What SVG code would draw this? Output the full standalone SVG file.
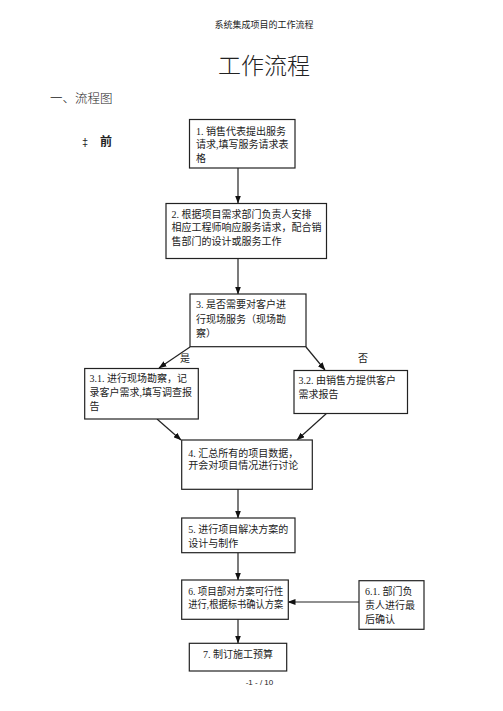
<svg xmlns="http://www.w3.org/2000/svg" width="503" height="711" viewBox="0 0 503 711">
<defs>
<style>
.box{fill:#fff;stroke:#222;stroke-width:1.2}
.t{font-family:"Liberation Serif","Noto Sans CJK SC",serif;font-size:10px;fill:#222}
.c{stroke:#222;stroke-width:1.2;fill:none;marker-end:url(#ah)}
.h{font-family:"Liberation Sans","Noto Sans CJK SC",sans-serif;fill:#222}
</style>
<marker id="ah" markerUnits="userSpaceOnUse" markerWidth="8" markerHeight="6" refX="7.5" refY="3" orient="auto">
<path d="M0,0 L8,3 L0,6 z" fill="#111"/>
</marker>
</defs>
<rect width="503" height="711" fill="#fff"/>
<text class="h" x="264" y="27.5" font-size="9" text-anchor="middle" fill="#555">系统集成项目的工作流程</text>
<text class="h" x="264" y="73.5" font-size="23" text-anchor="middle" font-weight="300">工作流程</text>
<text class="h" x="50" y="103" font-size="12.5" font-weight="300">一、流程图</text>
<text class="h" x="82" y="146" font-size="11" fill="#555">‡</text>
<text class="h" x="100" y="146" font-size="12" font-weight="bold">前</text>

<g id="connectors">
<line class="c" x1="238" y1="168" x2="238" y2="203"/>
<line class="c" x1="238" y1="258" x2="238" y2="294"/>
<line class="c" x1="190" y1="347" x2="159" y2="368"/>
<line class="c" x1="306" y1="347" x2="325" y2="370"/>
<line class="c" x1="157" y1="419" x2="181" y2="440"/>
<line class="c" x1="327" y1="413" x2="297" y2="440"/>
<line class="c" x1="238" y1="489" x2="238" y2="518"/>
<line class="c" x1="238" y1="553" x2="238" y2="580"/>
<line class="c" x1="359" y1="602" x2="288" y2="602"/>
<line class="c" x1="238" y1="619" x2="238" y2="643"/>
<text class="t" x="180" y="361.5">是</text>
<text class="t" x="358" y="361.5">否</text>
</g>

<g id="n1">
<rect class="box" x="189.5" y="119.5" width="105.5" height="48.5"/>
<text class="t" x="196" y="134.8">1. 销售代表提出服务</text>
<text class="t" x="196" y="148.2">请求,填写服务请求表</text>
<text class="t" x="196" y="161.5">格</text>
</g>
<g id="n2">
<rect class="box" x="166" y="203.5" width="160.5" height="55"/>
<text class="t" x="171.5" y="218.2">2. 根据项目需求部门负责人安排</text>
<text class="t" x="171.5" y="231.2">相应工程师响应服务请求，配合销</text>
<text class="t" x="171.5" y="244.5">售部门的设计或服务工作</text>
</g>
<g id="n3">
<rect class="box" x="190" y="294" width="116" height="52.7"/>
<text class="t" x="196" y="308.2">3. 是否需要对客户进</text>
<text class="t" x="196" y="323.2">行现场服务（现场勘</text>
<text class="t" x="196" y="337.2">察）</text>
</g>
<g id="n31">
<rect class="box" x="84.7" y="368.5" width="113.6" height="50.5"/>
<text class="t" x="89.5" y="382.2">3.1. 进行现场勘察，记</text>
<text class="t" x="89.5" y="395.6">录客户需求,填写调查报</text>
<text class="t" x="89.5" y="409.6">告</text>
</g>
<g id="n32">
<rect class="box" x="294" y="370.5" width="113.5" height="43"/>
<text class="t" x="298.5" y="383.8">3.2. 由销售方提供客户</text>
<text class="t" x="298.5" y="398.2">需求报告</text>
</g>
<g id="n4">
<rect class="box" x="181.7" y="440" width="130.6" height="49.3"/>
<text class="t" x="188.3" y="456.5">4. 汇总所有的项目数据，</text>
<text class="t" x="188.3" y="469.2">开会对项目情况进行讨论</text>
</g>
<g id="n5">
<rect class="box" x="181.7" y="518" width="113.3" height="34.7"/>
<text class="t" x="188.3" y="533.2">5. 进行项目解决方案的</text>
<text class="t" x="188.3" y="546.6">设计与制作</text>
</g>
<g id="n6">
<rect class="box" x="181.7" y="580" width="106.6" height="39.3"/>
<text class="t" x="188.3" y="594.6" textLength="95" lengthAdjust="spacingAndGlyphs">6. 项目部对方案可行性</text>
<text class="t" x="188.3" y="608.2" textLength="95" lengthAdjust="spacingAndGlyphs">进行,根据标书确认方案</text>
</g>
<g id="n61">
<rect class="box" x="359" y="580.7" width="65" height="48.6"/>
<text class="t" x="365" y="594.6">6.1. 部门负</text>
<text class="t" x="365" y="608.9">责人进行最</text>
<text class="t" x="365" y="623.2">后确认</text>
</g>
<g id="n7">
<rect class="box" x="189.3" y="643.3" width="97.4" height="27.7"/>
<text class="t" x="238" y="657.8" text-anchor="middle">7. 制订施工预算</text>
</g>
<text class="h" x="259.5" y="685" font-size="8" text-anchor="middle" fill="#333">-1 - / 10</text>
</svg>
